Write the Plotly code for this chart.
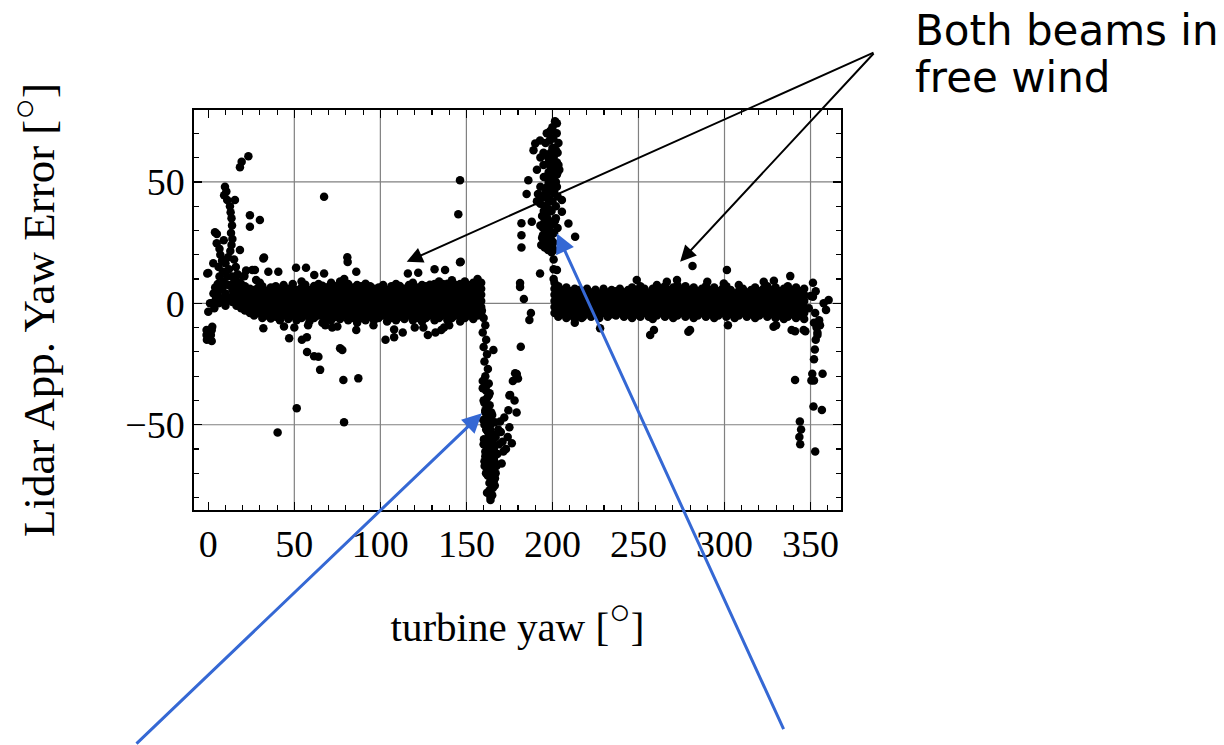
import plotly.graph_objects as go

# ---------------- data ----------------
# dense band, left part (turbine yaw column -> lidar yaw error values)
band1_yaw = [14.0, 16.4, 19.1, 21.3, 24.2, 26.6, 28.9, 31.4, 34.1, 36.3, 39.2, 41.6, 43.8, 46.5,
             49.1, 51.3, 54.2, 56.4, 58.8, 61.5, 64.1, 66.3, 69.2, 71.4, 73.9, 76.6, 79.0, 81.3,
             84.2, 86.5, 88.8, 91.4, 94.1, 96.3, 99.0, 101.6, 103.9, 106.4, 109.1, 111.3, 114.0,
             116.6, 118.9, 121.4, 124.2, 126.5, 128.8, 131.5, 134.1, 136.3, 139.0, 141.6, 143.9,
             146.4, 149.1, 151.3, 154.0, 156.5, 158.6]
band1_err = [
    [0.5, 3, 5.5, 8, 11], [-1, 1.5, 4.2, 6.5, 9], [-2, 0.3, 3, 5.6, 8], [-3, -0.5, 2.1, 4.5, 7],
    [-4, -1.6, 1, 3.4, 6], [-5, -2.2, 0.5, 3, 5.5], [-4, -1.5, 1.2, 3.5, 6.4], [-6, -3, -0.4, 2, 4.6, 7],
    [-5, -2.6, 0, 2.5, 5.1], [-6.2, -3.5, -1, 1.6, 4, 6.5], [-5.5, -3.1, -0.5, 2, 4.4, 7], [-7, -4, -1.5, 1.1, 3.5, 6],
    [-5, -2.4, 0, 2.6, 5, 7.5], [-6.5, -4, -1.4, 1, 3.6, 6], [-5.1, -2, 0.5, 3, 5.4, 8], [-7, -4.5, -2, 0.6, 3, 5.5],
    [-6, -3.4, -1, 1.5, 4.1, 6.5, 9], [-5, -2.5, 0.1, 2.5, 5, 7.6], [-7.5, -4.6, -2, 0.5, 3.1, 5.5], [-6, -3, -0.6, 2, 4.5, 7.1],
    [-5, -2.5, 0, 2.4, 5, 8], [-8, -5, -2.5, 0.1, 2.6, 5, 7.2], [-6, -3.6, -1, 1.5, 4, 6.6], [-7, -4, -1.5, 1, 3.4, 6, 8.5],
    [-5.6, -3, -0.5, 2.1, 4.5, 7], [-6.5, -3.9, -1.5, 1, 3.5, 6.1, 9], [-5, -2.5, 0.2, 2.5, 5, 7.5, 10], [-7, -4.4, -2, 0.5, 3, 5.6, 8],
    [-6, -3.5, -0.9, 1.5, 4, 6.5], [-8, -5, -2.4, 0, 2.5, 5.1, 7.5], [-6.1, -3, -0.5, 2, 4.6, 7], [-7, -4.5, -2, 0.4, 3, 5.5, 8.1],
    [-5.5, -3.1, -0.5, 2, 4.5, 7], [-7, -4, -1.6, 1, 3.5, 6], [-6, -3.5, -1, 1.6, 4, 6.5], [-5, -2.4, 0, 2.5, 5.1, 7.5],
    [-7.5, -4.5, -2.1, 0.5, 3, 5.5], [-6, -3, -0.5, 2.1, 4.5, 7], [-7, -4.5, -2, 0.5, 3.1, 5.5, 8], [-5.5, -3, -0.4, 2, 4.5, 7.1],
    [-6.5, -4.1, -1.5, 1, 3.5, 6], [-5, -2.5, 0, 2.6, 5, 7.5], [-7, -4, -1.5, 1.1, 3.5, 6, 8.5], [-6, -3.5, -1, 1.5, 4.1, 6.5],
    [-7.5, -5, -2.5, 0, 2.4, 5, 7.5], [-6, -3, -0.6, 2, 4.5, 7], [-5, -2.5, 0.1, 2.5, 5, 7.6], [-7, -4.5, -2, 0.5, 3, 5.4, 8],
    [-6, -3.5, -1, 1.4, 4, 6.5, 9], [-5, -2, 0.5, 3.1, 5.5, 8], [-7, -4.4, -2, 0.5, 3, 5.5, 8.1], [-6, -3, -0.5, 2, 4.6, 7, 9.5],
    [-5, -2.6, 0, 2.5, 5, 7.5], [-7.5, -4.5, -2, 0.6, 3, 5.5, 8], [-6, -3.5, -1.1, 1.5, 4, 6.5, 9], [-5, -2.5, 0, 2.4, 5, 7.5],
    [-6.5, -4, -1.5, 1, 3.6, 6, 8.5], [-5, -2.5, 0, 2.5, 5.1, 7.5, 10], [-4, -1.5, 1, 3.5, 6, 8.5],
]

# dense band, right part
band2_yaw = [201.2, 203.4, 205.9, 208.1, 210.6, 213.0, 215.3, 217.8, 220.1, 222.5, 225.0, 227.2, 229.7,
             232.1, 234.4, 236.9, 239.2, 241.6, 244.0, 246.3, 248.8, 251.1, 253.5, 256.0, 258.3, 260.7,
             263.1, 265.4, 267.9, 270.2, 272.6, 275.0, 277.3, 279.8, 282.1, 284.5, 286.9, 289.2, 291.7,
             294.0, 296.4, 298.8, 301.1, 303.6, 305.9, 308.3, 310.7, 313.0, 315.5, 317.8, 320.2, 322.6,
             324.9, 327.4, 329.7, 332.1, 334.5, 336.8, 339.3, 341.6, 344.0, 346.3]
band2_err = [
    [-4, -1.5, 1, 3.5, 6, 8.5], [-5.5, -3, -0.5, 2, 4.5, 7], [-4.5, -2, 0.5, 3.1, 5.5], [-6, -3.5, -1, 1.5, 4, 6.5],
    [-5, -2.4, 0, 2.5, 5], [-6.5, -4, -1.5, 1, 3.5, 6], [-4.5, -2, 0.6, 3, 5.5], [-5.5, -3, -0.5, 2.1, 4.5],
    [-4, -1.6, 1, 3.5, 6], [-5.5, -3, -0.4, 2, 4.5], [-4.5, -2, 0.5, 3, 5.6], [-6, -3.5, -1, 1.5, 4],
    [-4, -1.5, 1.1, 3.5, 6], [-5.5, -3.1, -0.5, 2, 4.5], [-4.5, -2, 0.5, 2.9, 5.5], [-5, -2.5, 0, 2.5, 5],
    [-4, -1.4, 1, 3.5, 6], [-5.5, -3, -0.6, 2, 4.5], [-4.5, -2, 0.5, 3, 5.5], [-6, -3.5, -1, 1.5, 4.1, 6.5],
    [-4.6, -2, 0.5, 3, 5.5], [-5.5, -3, -0.5, 2, 4.5, 7], [-4, -1.5, 1, 3.6, 6], [-5.5, -3, -0.5, 2, 4.4],
    [-6.5, -4, -1.5, 1, 3.5, 6], [-5, -2.5, 0.1, 2.5, 5, 7.5], [-4, -1.5, 1, 3.5, 6.1], [-5.5, -3, -0.5, 2, 4.5, 7],
    [-4.5, -2.1, 0.5, 3, 5.5], [-6, -3.5, -1, 1.5, 4, 6.5], [-5, -2.5, 0, 2.6, 5, 7.5], [-4, -1.5, 1, 3.5, 6],
    [-5.5, -3, -0.5, 2, 4.5, 7], [-4.5, -2, 0.4, 3, 5.5], [-6, -3.5, -1, 1.5, 4, 6.5], [-5, -2.5, 0, 2.5, 5.1],
    [-4, -1.5, 1, 3.4, 6], [-5.5, -3, -0.5, 2, 4.5, 7], [-4.5, -2, 0.5, 3, 5.5], [-6, -3.6, -1, 1.5, 4, 6.5],
    [-5, -2.5, 0, 2.5, 5], [-4, -1.5, 1, 3.5, 6], [-5.5, -3, -0.5, 2.1, 4.5, 7], [-4.5, -2, 0.5, 3, 5.5],
    [-6, -3.5, -1, 1.5, 4], [-5, -2.5, 0, 2.5, 5, 7.5], [-4, -1.5, 1, 3.5, 6], [-5.5, -3, -0.5, 2, 4.5],
    [-4.5, -2, 0.5, 3, 5.5], [-6, -3.5, -1, 1.5, 4, 6.5], [-5, -2.5, 0, 2.5, 5], [-4, -1.5, 1, 3.5, 6],
    [-5.5, -3, -0.5, 2, 4.5, 7], [-4.5, -2, 0.5, 3, 5.5], [-6, -3.5, -1, 1.5, 4, 6.5], [-5, -2.5, 0, 2.5, 5],
    [-6.5, -4, -1.5, 1, 3.5, 6], [-5.5, -3, -0.5, 2, 4.5, 7], [-4.5, -2, 0.5, 3, 5.5], [-6, -3.5, -1, 1.5, 4, 6.5],
    [-5, -2.5, 0, 2.5, 5], [-6.5, -4, -1.5, 1, 3.5, 6],
]

# spike near 0-30 deg
spike0_yaw = [23.3, 19.4, 18.4, 9.7, 10.5, 9.2, 11.0, 15.5, 12.6, 13.0, 24.2, 30.0, 24.2, 13.5, 13.8,
              13.2, 14.0, 13.5, 12.8, 3.9, 5.0, 4.9, 2.9, 0.0, 18.4, 32.0, 27.1, 40.7, 30.0, 7.0, 8.0,
              6.0, 8.5, 6.5, 9.0, 5.5, 8.0, 10.0, 11.0, 12.0, 10.0, 11.5, 15.0, 16.0, 17.0, 20.0, 22.0,
              25.6, 21.0, 27.8, 34.9, 3.0, 4.5, 2.0, 3.5, 0.0, 1.0, 2.3, 2.0, 1.5, 2.0, -0.6, 6.0, 8.0,
              10.0, 12.0, 4.0, 5.5, 7.5, 9.5, 11.5, 6.5, 9.0]
spike0_err = [60.6, 58.3, 56.0, 48.0, 46.0, 44.5, 42.5, 42.5, 40.0, 37.5, 36.3, 34.3, 31.5, 35.0, 32.0,
              29.0, 26.5, 24.0, 21.5, 29.3, 28.5, 24.7, 16.5, 12.5, 22.0, 18.5, 13.7, 13.0, 8.5, 20.0, 17.5,
              15.0, 13.0, 11.0, 9.0, 8.0, 6.0, 4.0, 11.0, 14.0, 16.5, 19.0, 18.0, 15.0, 12.0, 11.0, 13.5,
              13.7, 11.2, 9.6, 13.0, 4.0, 2.0, 0.0, -2.0, -3.5, 0.0, -9.6, -11.0, -13.0, -15.5, 12.3, 0.0, 2.0,
              -1.0, 1.5, 6.5, 4.5, 2.0, 1.0, 7.5, 22.5, 26.0]

# drop near 160-182 deg
drop_yaw = [159.0, 160.0, 161.0, 159.5, 161.5, 160.0, 162.0, 160.5, 162.5, 161.0, 163.0, 161.5, 162.0,
            163.5, 161.0, 162.5, 164.0, 161.5, 163.0, 165.0, 162.0, 164.0, 166.0, 163.0, 165.0, 167.0,
            162.5, 164.5, 166.5, 163.5, 165.0, 164.0, 160.0, 160.5, 160.0, 161.0, 162.0, 166.0, 167.0,
            168.0, 167.5, 169.0, 168.5, 165.0, 166.5, 163.0, 164.5, 165.7, 169.6, 170.0, 171.0, 171.5,
            170.5, 176.4, 175.4, 174.4, 178.3, 179.2, 172.0, 174.0, 173.0, 175.0, 181.6, 179.3, 177.0,
            180.0, 175.0, 178.0, 186.6, 187.5, 181.2, 181.2, 183.4, 159.5, 161.0, 163.0, 160.5, 162.5,
            159.5, 161.5, 163.5, 160.5, 162.5, 164.5, 159.8, 161.8, 163.8, 165.8, 160.2, 162.2, 164.2,
            166.2, 161.0, 163.0, 165.0, 167.0, 160.6, 162.6, 164.6, 166.6, 161.4, 163.4, 165.4, 162.0,
            164.0, 166.0, 163.0, 165.0, 161.0, 163.5]
drop_err = [-3.0, -6.0, -9.0, -12.0, -15.0, -18.0, -21.0, -24.0, -27.0, -30.0, -33.0, -36.0, -39.0,
            -42.0, -44.0, -47.0, -50.0, -52.0, -55.0, -57.0, -59.0, -62.0, -64.0, -66.0, -68.0, -70.0,
            -71.0, -73.0, -75.0, -77.0, -79.0, -81.0, -40.0, -50.0, -58.0, -63.0, -68.0, -60.0, -55.0,
            -62.0, -67.0, -58.0, -52.0, -46.0, -49.0, -60.0, -56.0, -19.2, -48.7, -53.0, -57.0, -61.0,
            -66.0, -57.6, -37.7, -44.0, -28.8, -45.0, -47.0, -55.0, -60.0, -51.0, -17.9, -29.1, -32.0,
            -31.0, -38.0, -40.0, -6.9, -4.0, 8.4, 6.7, 1.8, -35.0, -45.0, -38.0, -65.0, -53.0,
            -32.0, -34.0, -37.0, -41.0, -43.0, -45.0, -48.0, -50.0, -52.0, -54.0, -56.0, -58.0, -60.0,
            -62.0, -61.0, -63.0, -65.0, -66.0, -67.0, -69.0, -71.0, -72.0, -70.0, -74.0, -76.0, -78.0,
            -80.0, -73.0, -64.0, -59.0, -57.0, -47.0]

# spike near 182-213 deg
spike200_yaw = [202.6, 201.5, 200.0, 198.7, 196.7, 190.0, 192.8, 194.8, 194.8, 189.0, 203.5, 202.6, 202.6,
                202.6, 200.7, 200.7, 200.7, 200.7, 200.7, 200.7, 197.8, 197.8, 197.8, 197.8, 197.8, 186.0,
                185.0, 191.6, 205.5, 205.5, 209.3, 213.2, 193.0, 195.0, 197.0, 199.0, 201.0, 196.0, 194.0,
                198.0, 200.0, 195.0, 199.0, 202.0, 203.0, 196.0, 182.0, 182.0, 182.0, 188.0, 192.8, 202.6,
                200.7, 200.7, 200.7, 200.7, 199.0, 196.0, 193.0, 191.0, 199.0, 203.0, 195.0, 193.0, 204.0,
                203.0, 196.0, 199.0, 202.0, 194.0, 191.0, 198.5, 196.5, 195.5, 194.5, 197.5, 199.5, 201.5,
                193.5, 195.5, 197.5, 199.5, 194.5, 196.5, 198.5, 200.5, 193.0, 195.0, 197.0, 199.0, 194.0,
                196.0, 198.0, 200.0, 195.5, 197.5, 199.5, 196.0, 198.0, 200.0, 197.0, 199.0, 201.0, 198.0,
                200.0, 202.0, 199.0, 201.0, 203.0, 197.5, 199.5, 201.5, 203.5, 200.0, 202.0, 198.5, 200.5,
                202.5]
spike200_err = [74.1, 75.0, 72.5, 71.0, 70.0, 65.8, 67.0, 62.0, 57.0, 63.0, 66.0, 58.0, 53.0,
                48.0, 64.0, 60.0, 56.0, 52.0, 48.0, 45.5, 58.0, 54.0, 50.0, 46.0, 42.0, 50.7,
                45.0, 45.0, 42.5, 37.7, 32.9, 27.4, 41.0, 38.0, 35.0, 32.0, 29.0, 30.0, 27.0,
                25.0, 23.0, 33.0, 38.0, 35.0, 31.0, 24.0, 33.0, 28.0, 23.0, 33.6, 12.3, 13.7,
                22.0, 18.0, 14.0, 10.0, 68.0, 66.0, 60.0, 55.0, 62.0, 62.0, 52.0, 48.0, 55.0,
                44.0, 46.0, 50.0, 40.0, 44.0, 42.0, 28.0, 36.0, 27.0, 31.0, 33.0, 26.0, 34.0,
                24.0, 23.0, 22.0, 21.0, 28.0, 27.0, 26.0, 25.0, 32.0, 31.0, 30.0, 29.0, 36.0,
                35.0, 34.0, 33.0, 40.0, 39.0, 38.0, 44.0, 43.0, 42.0, 48.0, 47.0, 46.0, 52.0,
                51.0, 50.0, 56.0, 55.0, 54.0, 60.0, 59.0, 58.0, 57.0, 64.0, 63.0, 67.0, 68.0,
                70.0]

# spike near 340-360 deg
spike350_yaw = [341.0, 343.8, 344.5, 343.5, 344.0, 352.7, 351.7, 356.6, 350.5, 352.0, 351.0, 357.0, 352.0,
                352.5, 353.0, 354.0, 353.5, 355.0, 355.5, 352.7, 341.0, 347.0, 351.4, 351.4, 357.6, 360.5,
                359.0, 352.0, 354.0, 346.0, 349.0, 350.0, 353.0]
spike350_err = [-31.6, -48.7, -52.0, -55.0, -58.0, -61.0, -42.5, -43.9, -31.8, -31.8, -29.0, -29.0, -23.0,
                -19.0, -15.0, -12.0, -10.0, -7.0, -9.0, -4.0, -11.5, -11.5, 8.5, 2.7, 0.0, 1.4,
                -2.7, -8.0, -13.0, -11.0, -2.0, 3.0, 5.0]

# scattered outliers
outlier_yaw = [32.4, 80.8, 81.0, 146.7, 146.3, 51.0, 56.8, 61.6, 67.3, 86.0, 116.0, 122.0, 131.5, 137.6,
               67.3, 146.3, 145.3, 32.0, 47.0, 54.4, 57.3, 57.4, 61.5, 64.0, 65.0, 76.6, 77.9, 78.5,
               87.2, 51.4, 40.3, 78.9, 72.0, 68.0, 75.0, 86.0, 103.0, 108.0, 108.0, 113.0, 120.0, 125.0,
               127.6, 132.0, 135.4, 137.0, 44.0, 50.0, 58.0, 96.0, 140.0, -1.0, -1.0, -0.8,
               330.0, 259.0, 280.0, 227.7, 213.0, 217.0, 256.8, 279.0, 281.4, 301.4, 249.0, 338.2,
               339.0, 328.5, 302.0, 266.5, 272.4, 290.0, 299.6, 322.8, 328.7]
outlier_err = [18.9, 19.0, 17.0, 17.1, 16.9, 14.6, 14.6, 11.7, 12.3, 13.0, 12.3, 12.6, 14.0, 13.7,
               43.9, 50.7, 36.7, -10.3, -14.4, -15.0, -14.0, -20.0, -21.8, -22.0, -27.4, -18.5, -19.2, -31.6,
               -30.9, -43.2, -53.2, -49.0, -10.0, -9.0, -9.5, -11.0, -15.0, -14.0, -10.8, -12.0, -10.0, -10.0,
               -13.0, -12.0, -11.0, -10.0, -9.5, -10.0, -9.0, -9.0, -9.0, -11.0, -13.0, -15.0,
               -9.0, -11.0, -11.0, -10.3, -8.0, -6.0, -13.0, -11.7, 15.4, 13.7, 9.6, 11.2,
               -11.0, -9.6, -9.0, 8.9, 9.6, 8.9, 8.2, 8.9, 9.3]

x_tick_values = [0, 50, 100, 150, 200, 250, 300, 350]
y_tick_values = [-50, 0, 50]
x_grid_values = [50, 100, 150, 200, 250, 300, 350]
y_grid_values = [-50, 0, 50]

# ---------------- assemble ----------------
yaw, err = [], []
for xv, col in zip(band1_yaw, band1_err):
    for yv in col:
        yaw.append(xv)
        err.append(yv)
for xv, col in zip(band2_yaw, band2_err):
    for yv in col:
        yaw.append(xv)
        err.append(yv)
for xs, ys in [(spike0_yaw, spike0_err), (drop_yaw, drop_err), (spike200_yaw, spike200_err),
               (spike350_yaw, spike350_err), (outlier_yaw, outlier_err)]:
    yaw.extend(xs)
    err.extend(ys)

# layout geometry (pixels)
W, H = 1224, 745
L, R, T, B = 194, 841, 110, 510
X_RANGE = [-8.3, 367.7]
Y_RANGE = [-85.1, 79.6]


def px_x(p):
    return (p - L) / (R - L)


def px_y(p):
    return (B - p) / (B - T)


def data_to_px(xv, yv):
    px = L + (xv - X_RANGE[0]) / (X_RANGE[1] - X_RANGE[0]) * (R - L)
    py = B - (yv - Y_RANGE[0]) / (Y_RANGE[1] - Y_RANGE[0]) * (B - T)
    return px, py


SERIF = "Liberation Serif, Times New Roman, serif"
SANS = "DejaVu Sans, Verdana, sans-serif"
DEG = '<sup><span style="font-size:36px">○</span></sup>'

fig = go.Figure()
fig.add_trace(go.Scatter(x=yaw, y=err, mode="markers",
                         marker=dict(color="black", size=8.5, line=dict(width=0)),
                         hoverinfo="skip", showlegend=False))

shapes = []
for gx in x_grid_values:
    shapes.append(dict(type="line", xref="x", yref="paper", x0=gx, x1=gx, y0=0, y1=1,
                       line=dict(color="#808080", width=1.2), layer="below"))
for gy in y_grid_values:
    shapes.append(dict(type="line", xref="paper", yref="y", x0=0, x1=1, y0=gy, y1=gy,
                       line=dict(color="#808080", width=1.2), layer="below"))

axis_common = dict(
    showline=True, linecolor="black", linewidth=1.6, mirror="ticks",
    ticks="inside", ticklen=8, tickwidth=1.3, tickcolor="black",
    showgrid=False, zeroline=False, automargin=False,
    tickfont=dict(family=SERIF, size=38, color="black"),
    minor=dict(ticks="inside", ticklen=5, tickwidth=1.1, tickcolor="black", dtick=10, tick0=0,
               showgrid=False),
)

fig.update_layout(
    width=W, height=H,
    margin=dict(l=L, r=W - R, t=T, b=H - B, pad=0),
    paper_bgcolor="white", plot_bgcolor="white",
    shapes=shapes,
    xaxis=dict(range=X_RANGE, tickvals=x_tick_values, **axis_common,
               title=dict(text="turbine yaw [" + DEG + "]", font=dict(family=SERIF, size=41, color="black"),
                          standoff=48)),
    yaxis=dict(range=Y_RANGE, tickvals=y_tick_values, **axis_common,
               title=dict(text="Lidar App. Yaw Error [" + DEG + "]",
                          font=dict(family=SERIF, size=45, color="black"), standoff=56)),
)

# black arrows: "Both beams in free wind"
for hx, hy in [(115.3, 17.1), (274.2, 17.1)]:
    hpx, hpy = data_to_px(hx, hy)
    fig.add_annotation(x=hx, y=hy, xref="x", yref="y", showarrow=True, text="",
                       ax=875 - hpx, ay=52 - hpy,
                       arrowhead=2, arrowsize=1.6, arrowwidth=2, arrowcolor="black")

# blue arrows from below
for hx, hy, tx, ty in [(159.0, -45.3, 135, 745), (202.6, 28.8, 784.3, 730.7)]:
    hpx, hpy = data_to_px(hx, hy)
    fig.add_annotation(x=hx, y=hy, xref="x", yref="y", showarrow=True, text="",
                       ax=tx - hpx, ay=ty - hpy,
                       arrowhead=2, arrowsize=1.3, arrowwidth=3, arrowcolor="#3568d4")

fig.add_annotation(x=px_x(913), y=px_y(30), xref="paper", yref="paper", xanchor="left", yanchor="middle",
                   text="Both beams in", showarrow=False, font=dict(family=SANS, size=42, color="black"))
fig.add_annotation(x=px_x(913), y=px_y(78), xref="paper", yref="paper", xanchor="left", yanchor="middle",
                   text="free wind", showarrow=False, font=dict(family=SANS, size=42, color="black"))

fig.write_html("out.html", config={"displayModeBar": False, "staticPlot": True},
               post_script="document.body.style.margin='0';document.body.style.overflow='hidden';")
